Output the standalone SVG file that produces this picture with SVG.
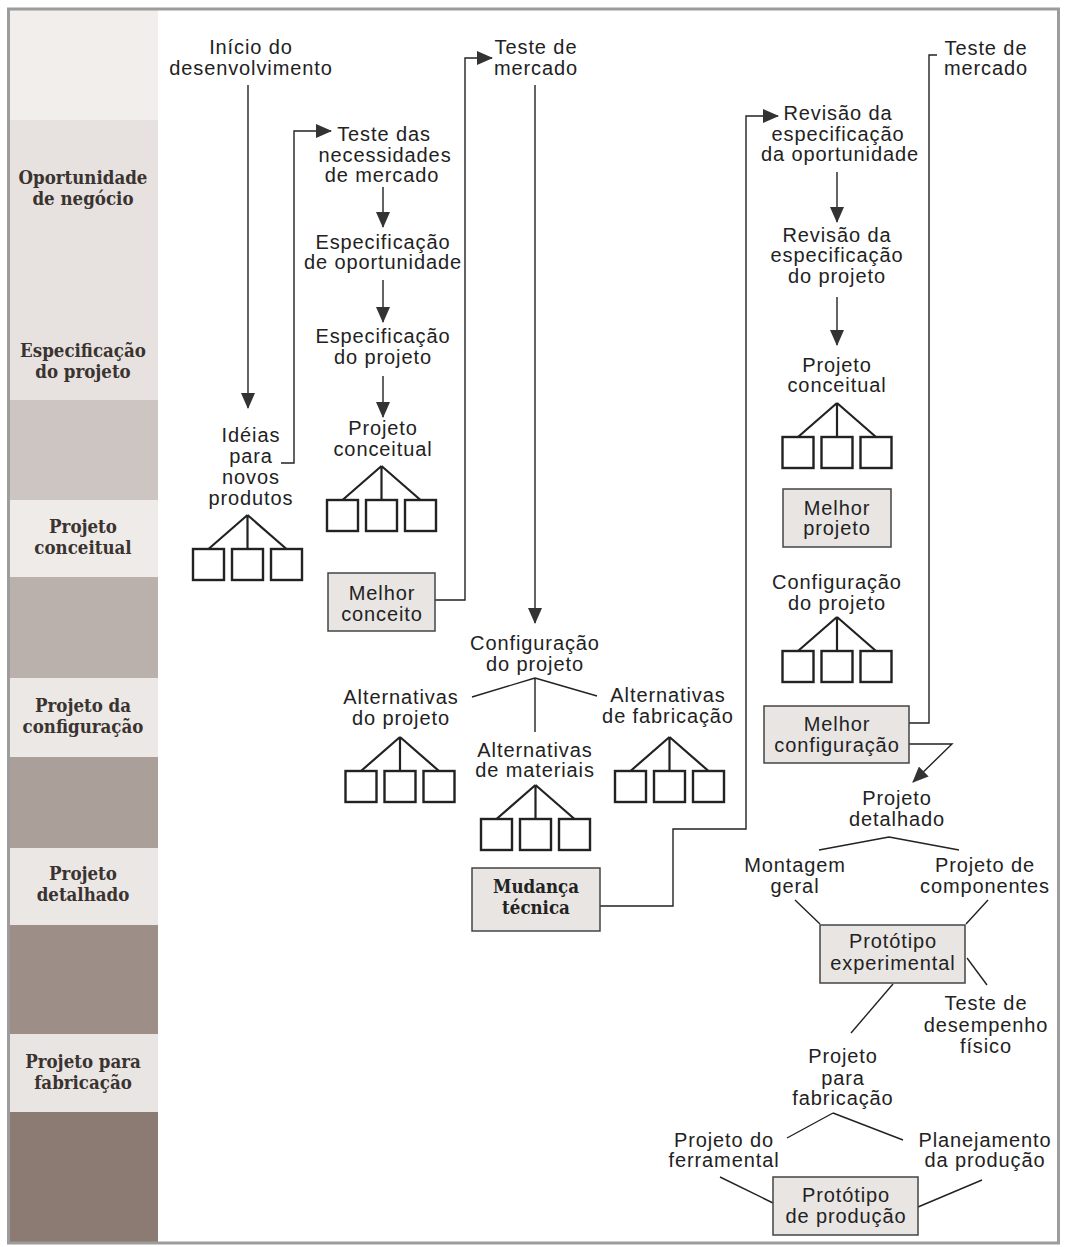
<svg xmlns="http://www.w3.org/2000/svg" width="1066" height="1247" viewBox="0 0 1066 1247">
<defs>
<marker id="ah" viewBox="0 0 16 14" refX="15" refY="7" markerWidth="16" markerHeight="14" orient="auto" markerUnits="userSpaceOnUse">
<path d="M0,0 L16,7 L0,14 z" fill="#333"/>
</marker>
<g id="tree">
<path d="M0,0 L-39,34 M0,0 V34 M0,0 L39,34" fill="none" stroke="#222" stroke-width="2.2"/>
<rect x="-54.5" y="34" width="31" height="31" fill="#fff" stroke="#222" stroke-width="2.4"/>
<rect x="-15.5" y="34" width="31" height="31" fill="#fff" stroke="#222" stroke-width="2.4"/>
<rect x="23.5" y="34" width="31" height="31" fill="#fff" stroke="#222" stroke-width="2.4"/>
</g>
</defs>
<style>
.t{font-family:"Liberation Sans",Arial,sans-serif;font-size:20px;letter-spacing:0.9px;fill:#222;text-anchor:middle}
.s{font-family:"DejaVu Serif Condensed","DejaVu Serif",serif;font-stretch:condensed;font-weight:bold;font-size:18.5px;fill:#3a3330;text-anchor:middle}
.box{fill:#e8e5e3;stroke:#444;stroke-width:1.5}
.c{fill:none;stroke:#222;stroke-width:1.4}
</style>
<rect width="1066" height="1247" fill="#fff"/>
<g id="sidebar">
<rect x="10" y="10" width="148" height="110" fill="#f1eeec"/>
<rect x="10" y="120" width="148" height="280" fill="#e7e2df"/>
<rect x="10" y="400" width="148" height="100" fill="#cdc5c1"/>
<rect x="10" y="500" width="148" height="77" fill="#efebe9"/>
<rect x="10" y="577" width="148" height="101" fill="#bbb1ac"/>
<rect x="10" y="678" width="148" height="79" fill="#ece8e6"/>
<rect x="10" y="757" width="148" height="91" fill="#ab9f99"/>
<rect x="10" y="848" width="148" height="77" fill="#ebe7e5"/>
<rect x="10" y="925" width="148" height="109" fill="#9d8f88"/>
<rect x="10" y="1034" width="148" height="78" fill="#e9e5e3"/>
<rect x="10" y="1112" width="148" height="131" fill="#8b7b72"/>
<text class="s" x="83" y="184">Oportunidade</text>
<text class="s" x="83" y="205">de negócio</text>
<text class="s" x="83" y="357">Especificação</text>
<text class="s" x="83" y="378">do projeto</text>
<text class="s" x="83" y="533">Projeto</text>
<text class="s" x="83" y="554">conceitual</text>
<text class="s" x="83" y="712">Projeto da</text>
<text class="s" x="83" y="733">configuração</text>
<text class="s" x="83" y="880">Projeto</text>
<text class="s" x="83" y="901">detalhado</text>
<text class="s" x="83" y="1068">Projeto para</text>
<text class="s" x="83" y="1089">fabricação</text>
</g>
<rect x="8.5" y="9" width="1050" height="1234" fill="none" stroke="#9c9c9c" stroke-width="3"/>
<g id="connectors">
<path class="c" d="M248,85 V408" marker-end="url(#ah)"/>
<path class="c" d="M281,463 H294 V131 H331" marker-end="url(#ah)"/>
<path class="c" d="M383,187 V227" marker-end="url(#ah)"/>
<path class="c" d="M383,280 V322" marker-end="url(#ah)"/>
<path class="c" d="M383,376 V417" marker-end="url(#ah)"/>
<path class="c" d="M435,600 H465 V58 H492" marker-end="url(#ah)"/>
<path class="c" d="M535,85 V623" marker-end="url(#ah)"/>
<path class="c" d="M535,678 L472,697 M535,678 L597,696 M535,678 V732"/>
<path class="c" d="M600,906 H673 V829 H746 V116 H778" marker-end="url(#ah)"/>
<path class="c" d="M837,172 V222" marker-end="url(#ah)"/>
<path class="c" d="M837,297 V345" marker-end="url(#ah)"/>
<path class="c" d="M909,723 H929 V55 H937"/>
<path class="c" d="M909,744 H952 L913,782" marker-end="url(#ah)"/>
<path class="c" d="M889,837 L819,850 M889,837 L959,850"/>
<path class="c" d="M795,900 L820,924 M988,900 L966,924"/>
<path class="c" d="M967,958 L987,985"/>
<path class="c" d="M893,984 L851,1033"/>
<path class="c" d="M833,1113 L787,1138 M833,1113 L903,1140"/>
<path class="c" d="M720,1177 L773,1203 M982,1180 L918,1207"/>
</g>
<g id="inicio"><text class="t" x="251" y="54">Início do</text><text class="t" x="251" y="75">desenvolvimento</text></g>
<g id="ideias">
<text class="t" x="251" y="442">Idéias</text><text class="t" x="251" y="463">para</text><text class="t" x="251" y="484">novos</text><text class="t" x="251" y="505">produtos</text>
<use href="#tree" x="247.5" y="515"/>
</g>
<g id="teste-necessidades"><text class="t" x="384" y="141">Teste das</text><text class="t" x="385" y="162">necessidades</text><text class="t" x="382" y="182">de mercado</text></g>
<g id="espec-oportunidade"><text class="t" x="383" y="249">Especificação</text><text class="t" x="383" y="269">de oportunidade</text></g>
<g id="espec-projeto"><text class="t" x="383" y="343">Especificação</text><text class="t" x="383" y="364">do projeto</text></g>
<g id="projeto-conceitual-1">
<text class="t" x="383" y="435">Projeto</text><text class="t" x="383" y="456">conceitual</text>
<use href="#tree" x="381.5" y="466"/>
</g>
<g id="melhor-conceito"><rect class="box" x="328" y="573" width="107" height="58"/><text class="t" x="382" y="600">Melhor</text><text class="t" x="382" y="621">conceito</text></g>
<g id="teste-mercado-1"><text class="t" x="536" y="54">Teste de</text><text class="t" x="536" y="75">mercado</text></g>
<g id="configuracao-1"><text class="t" x="535" y="650">Configuração</text><text class="t" x="535" y="671">do projeto</text></g>
<g id="alt-projeto"><text class="t" x="401" y="704">Alternativas</text><text class="t" x="401" y="725">do projeto</text><use href="#tree" x="400" y="737"/></g>
<g id="alt-materiais"><text class="t" x="535" y="757">Alternativas</text><text class="t" x="535" y="777">de materiais</text><use href="#tree" x="535.5" y="785"/></g>
<g id="alt-fabricacao"><text class="t" x="668" y="702">Alternativas</text><text class="t" x="668" y="723">de fabricação</text><use href="#tree" x="669.5" y="737"/></g>
<g id="mudanca-tecnica"><rect class="box" x="472" y="868" width="128" height="63"/><text class="s" x="536" y="893" style="fill:#222">Mudança</text><text class="s" x="536" y="914" style="fill:#222">técnica</text></g>
<g id="revisao-oportunidade"><text class="t" x="838" y="120">Revisão da</text><text class="t" x="838" y="141">especificação</text><text class="t" x="840" y="161">da oportunidade</text></g>
<g id="revisao-projeto"><text class="t" x="837" y="242">Revisão da</text><text class="t" x="837" y="262">especificação</text><text class="t" x="837" y="283">do projeto</text></g>
<g id="projeto-conceitual-2"><text class="t" x="837" y="372">Projeto</text><text class="t" x="837" y="392">conceitual</text><use href="#tree" x="837" y="403"/></g>
<g id="melhor-projeto"><rect class="box" x="783" y="489" width="108" height="58"/><text class="t" x="837" y="515">Melhor</text><text class="t" x="837" y="535">projeto</text></g>
<g id="configuracao-2"><text class="t" x="837" y="589">Configuração</text><text class="t" x="837" y="610">do projeto</text><use href="#tree" x="837" y="617"/></g>
<g id="melhor-configuracao"><rect class="box" x="764" y="706" width="145" height="57"/><text class="t" x="837" y="731">Melhor</text><text class="t" x="837" y="752">configuração</text></g>
<g id="teste-mercado-2"><text class="t" x="986" y="55">Teste de</text><text class="t" x="986" y="75">mercado</text></g>
<g id="projeto-detalhado"><text class="t" x="897" y="805">Projeto</text><text class="t" x="897" y="826">detalhado</text></g>
<g id="montagem"><text class="t" x="795" y="872">Montagem</text><text class="t" x="795" y="893">geral</text></g>
<g id="componentes"><text class="t" x="985" y="872">Projeto de</text><text class="t" x="985" y="893">componentes</text></g>
<g id="prototipo-experimental"><rect class="box" x="820" y="925" width="145" height="58"/><text class="t" x="893" y="948">Protótipo</text><text class="t" x="893" y="970">experimental</text></g>
<g id="teste-desempenho"><text class="t" x="986" y="1010">Teste de</text><text class="t" x="986" y="1032">desempenho</text><text class="t" x="986" y="1053">físico</text></g>
<g id="projeto-fabricacao"><text class="t" x="843" y="1063">Projeto</text><text class="t" x="843" y="1085">para</text><text class="t" x="843" y="1105">fabricação</text></g>
<g id="ferramental"><text class="t" x="724" y="1147">Projeto do</text><text class="t" x="724" y="1167">ferramental</text></g>
<g id="planejamento"><text class="t" x="985" y="1147">Planejamento</text><text class="t" x="985" y="1167">da produção</text></g>
<g id="prototipo-producao"><rect class="box" x="773" y="1177" width="145" height="58"/><text class="t" x="846" y="1202">Protótipo</text><text class="t" x="846" y="1223">de produção</text></g>
</svg>
